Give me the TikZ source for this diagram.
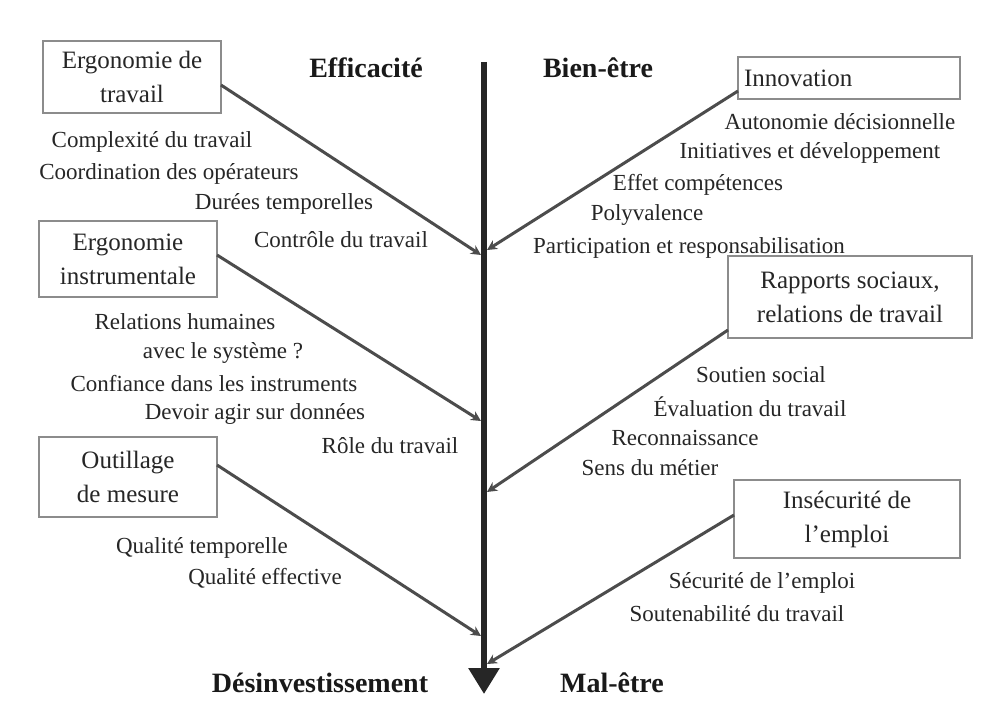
\documentclass[tikz,border=0pt]{standalone}
\usepackage{fontspec}
\setmainfont{Liberation Serif}
\usetikzlibrary{arrows.meta}
\begin{document}
\begin{tikzpicture}[x=1pt,y=-1pt,
  every node/.style={inner sep=0pt,outer sep=0pt,text=black!85},
  item/.style={font=\fontsize{23}{26}\selectfont},
  head/.style={font=\fontsize{28}{30}\selectfont\bfseries,text=black!90},
  cbox/.style={draw=black!45,line width=2.5pt,minimum width=178pt,minimum height=72pt,align=center,
     font=\fontsize{25}{34}\selectfont},
  spine/.style={draw=black!85,line width=6pt},
  branch/.style={draw=black!70,line width=3pt,-{Stealth[length=10pt,width=10pt]}}]
\useasboundingbox[fill=white] (0,0) rectangle (994,709);
% spine
\coordinate (top) at (484,62);
\coordinate (bot) at (484,694);
\draw[spine,-{Triangle[length=26pt,width=30pt]}] (top) -- (bot);
% headers
\node[head] (eff) at (366,68) {Efficacité};
\node[head] (bien) at (598,68) {Bien-être};
\node[head] (des) at (320,683) {Désinvestissement};
\node[head] (mal) at (612,683) {Mal-être};
% left boxes
\node[cbox] (L1) at (132,77) {Ergonomie de\\travail};
\node[cbox,minimum height=76pt] (L2) at (128,259) {Ergonomie\\instrumentale};
\node[cbox,minimum height=80pt] (L3) at (128,477) {Outillage\\de mesure};
% right boxes
\node[cbox,minimum width=222pt,minimum height=42pt,align=left,text width=210pt] (R1) at (849,78) {Innovation};
\node[cbox,minimum width=244pt,minimum height=82pt] (R2) at (850,297) {Rapports sociaux,\\relations de travail};
\node[cbox,minimum width=226pt,minimum height=78pt] (R3) at (847,519) {Insécurité de\\l'emploi};
% spine junctions
\coordinate (jL1) at (481,255);
\coordinate (jR1) at (487,250);
\coordinate (jL2) at (481,421);
\coordinate (jR2) at (487,492);
\coordinate (jL3) at (481,636);
\coordinate (jR3) at (487,664);
% branches
\draw[branch] (L1.east) ++(0,8) coordinate (sL1) -- (jL1);
\draw[branch] (L2.east) ++(0,-4) coordinate (sL2) -- (jL2);
\draw[branch] (L3.east) ++(0,-12) coordinate (sL3) -- (jL3);
\draw[branch] (R1.south west) ++(0,-8) coordinate (sR1) -- (jR1);
\draw[branch] (R2.south west) ++(0,-8) coordinate (sR2) -- (jR2);
\draw[branch] (R3.west) ++(0,-4) coordinate (sR3) -- (jR3);
% left items
\node[item] (a1) at (152,142) {Complexité du travail};
\node[item] (a2) at (169,174) {Coordination des opérateurs};
\node[item] (a3) at (284,204) {Durées temporelles};
\node[item] (a4) at (341,240) {Contrôle du travail};
\node[item] (b1) at (185,322) {Relations humaines};
\node[item] (b2) at (223,353) {avec le système ?};
\node[item] (b3) at (214,384) {Confiance dans les instruments};
\node[item] (b4) at (255,414) {Devoir agir sur données};
\node[item] (b5) at (390,446) {Rôle du travail};
\node[item] (c1) at (202,548) {Qualité temporelle};
\node[item] (c2) at (265,578) {Qualité effective};
% right items
\node[item] (d1) at (840,122) {Autonomie décisionnelle};
\node[item] (d2) at (810,153) {Initiatives et développement};
\node[item] (d3) at (698,185) {Effet compétences};
\node[item] (d4) at (647,215) {Polyvalence};
\node[item] (d5) at (689,248) {Participation et responsabilisation};
\node[item] (e1) at (761,375) {Soutien social};
\node[item] (e2) at (750,407) {Évaluation du travail};
\node[item] (e3) at (685,438) {Reconnaissance};
\node[item] (e4) at (650,468) {Sens du métier};
\node[item] (f1) at (762,583) {Sécurité de l'emploi};
\node[item] (f2) at (737,614) {Soutenabilité du travail};
\end{tikzpicture}
\end{document}
